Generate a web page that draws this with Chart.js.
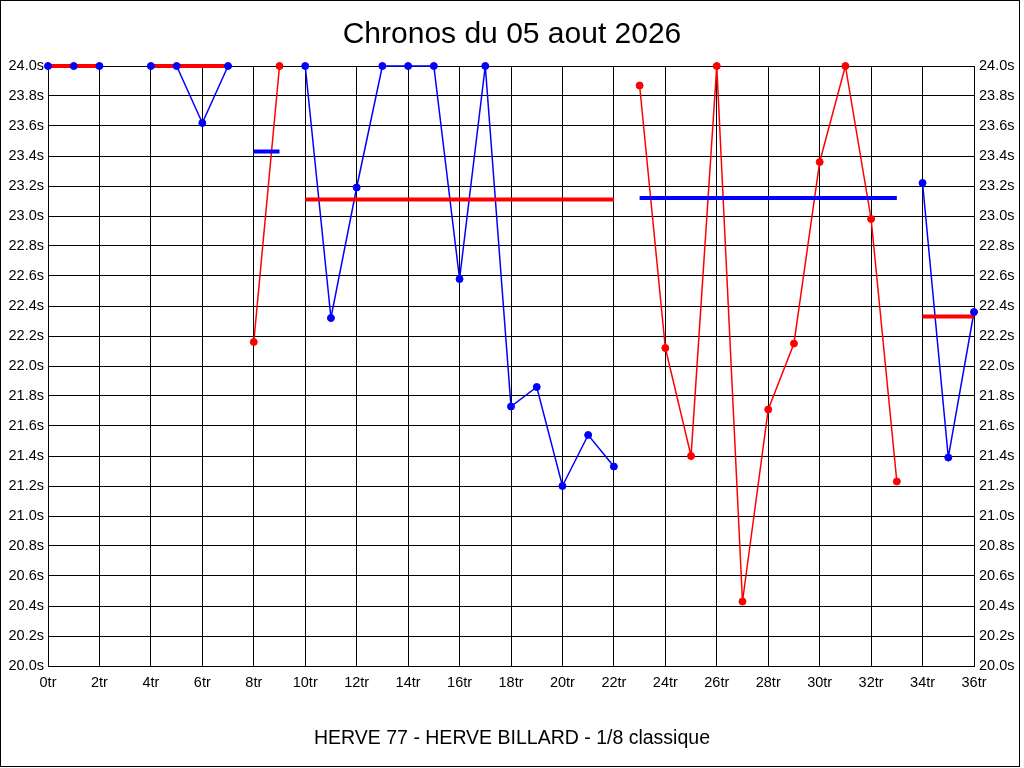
<!DOCTYPE html>
<html>
<head>
<meta charset="utf-8">
<title>Chronos du 05 aout 2026</title>
<script src="https://cdn.jsdelivr.net/npm/chart.js@4/dist/chart.umd.min.js"></script>
<style>
  html, body { margin:0; padding:0; background:#fff; }
  #wrap { position:relative; width:1024px; height:768px; }
</style>
</head>
<body>
<div id="wrap"><canvas id="chrono" width="1024" height="768"></canvas></div>
<script>
// ============ Data ============
const TITLE  = "Chronos du 05 aout 2026";
const FOOTER = "HERVE 77 - HERVE BILLARD - 1/8 classique";

const laps = [0,1,2,3,4,5,6,7,8,9,10,11,12,13,14,15,16,17,18,19,20,21,22,23,24,25,26,27,28,29,30,31,32,33,34,35,36];

// lap times (s), blue runs
const blueTimes = [24.00,24.00,24.00,null,24.00,24.00,23.62,24.00,null,null,
                   24.00,22.32,23.19,24.00,24.00,24.00,22.58,24.00,21.73,21.86,21.20,21.54,21.33,
                   null,null,null,null,null,null,null,null,null,null,null,
                   23.22,21.39,22.36];

// lap times (s), red runs
const redTimes  = [null,null,null,null,null,null,null,null,22.16,24.00,
                   null,null,null,null,null,null,null,null,null,null,null,null,null,
                   23.87,22.12,21.40,24.00,20.43,21.71,22.15,23.36,24.00,22.98,21.23,
                   null,null,null];

// thick reference levels
const redLevel  = [24.00,24.00,24.00,null,24.00,24.00,24.00,24.00,null,null,
                   23.11,23.11,23.11,23.11,23.11,23.11,23.11,23.11,23.11,23.11,23.11,23.11,23.11,
                   null,null,null,null,null,null,null,null,null,null,null,
                   22.33,22.33,22.33];
const blueLevel = [null,null,null,null,null,null,null,null,23.43,23.43,
                   null,null,null,null,null,null,null,null,null,null,null,null,null,
                   23.12,23.12,23.12,23.12,23.12,23.12,23.12,23.12,23.12,23.12,23.12,
                   null,null,null];

const Y_MIN = 20, Y_MAX = 24, Y_STEP = 0.2;
const X_MIN = 0, X_MAX = 36, X_STEP = 2;

// ============ Helpers ============
const RED = "#ff0000", BLUE = "#0000ff";
const FONT = "'Liberation Sans', Arial, sans-serif";
const secLabel = (v) => Number(v).toFixed(1) + "s";

function lineSet(data, color, order){
  return { data, borderColor:color, backgroundColor:color, borderWidth:1.5,
           pointRadius:0, tension:0, spanGaps:false, clip:false, order };
}
function levelSet(data, color){
  return { data, borderColor:color, backgroundColor:color, borderWidth:4,
           pointRadius:0, tension:0, spanGaps:false, clip:false, order:1 };
}
function pointSet(data, color){
  return { data, showLine:false, borderColor:color, backgroundColor:color,
           pointRadius:3.5, pointBorderWidth:1, clip:false, order:0 };
}

// title, footer and outer frame
const frame = {
  id: "frame",
  afterDraw(chart){
    const c = chart.ctx;
    c.save();
    c.fillStyle = "#000";
    c.textAlign = "center";
    c.textBaseline = "alphabetic";
    c.font = "30px " + FONT;
    c.fillText(TITLE, 512, 43);
    c.font = "19.5px " + FONT;
    c.fillText(FOOTER, 512, 744);
    c.strokeStyle = "#000";
    c.lineWidth = 1;
    c.strokeRect(0.5, 0.5, 1019, 766);
    c.restore();
  }
};

// ============ Chart ============
Chart.defaults.font.family = FONT;
Chart.defaults.color = "#000";

const yTicks = { stepSize:Y_STEP, padding:4, font:{ size:14.5 }, color:"#000", callback:secLabel };

new Chart(document.getElementById("chrono"), {
  type: "line",
  data: {
    labels: laps,
    datasets: [
      lineSet(blueTimes, BLUE, 2),
      lineSet(redTimes, RED, 2),
      levelSet(redLevel, RED),
      levelSet(blueLevel, BLUE),
      pointSet(blueTimes, BLUE),
      pointSet(redTimes, RED)
    ]
  },
  options: {
    responsive: false,
    animation: false,
    layout: { padding: { top:66, left:0, right:0, bottom:0 } },
    plugins: { legend:{ display:false }, tooltip:{ enabled:false }, title:{ display:false } },
    scales: {
      x: {
        type: "linear", min:X_MIN, max:X_MAX,
        afterFit: (s) => { s.height = 102; },
        grid: { color:"#000", lineWidth:1, drawTicks:false },
        border: { color:"#000" },
        ticks: {
          stepSize:X_STEP, autoSkip:false, maxRotation:0, padding:8,
          font:{ size:14.5 }, color:"#000",
          callback: (v) => v + "tr"
        }
      },
      y: {
        position: "left", min:Y_MIN, max:Y_MAX,
        afterFit: (s) => { s.width = 48; },
        grid: { color:"#000", lineWidth:1, drawTicks:false },
        border: { color:"#000" },
        ticks: yTicks
      },
      y2: {
        position: "right", min:Y_MIN, max:Y_MAX,
        afterFit: (s) => { s.width = 50; },
        grid: { display:false, drawTicks:false },
        border: { color:"#000" },
        ticks: Object.assign({}, yTicks, { padding:5 })
      }
    }
  },
  plugins: [frame]
});
</script>
</body>
</html>
